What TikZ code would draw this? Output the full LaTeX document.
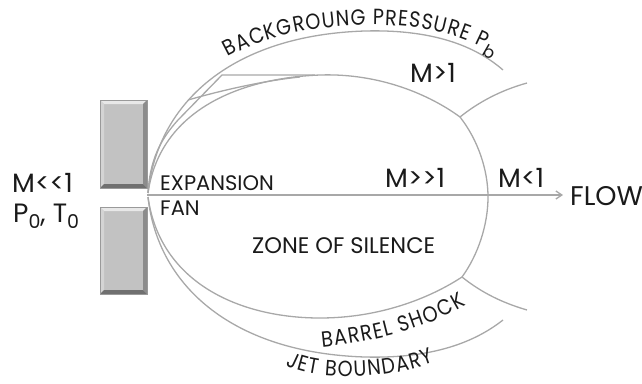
\documentclass[tikz,border=0pt]{standalone}
\usepackage{fontspec}
\setmainfont{Poppins}
\newfontfamily\arcfont{Poppins}[FakeStretch=0.87]
\usetikzlibrary{decorations.text,arrows.meta}
\definecolor{jetline}{HTML}{A8A8A8}
\definecolor{ink}{HTML}{1A1A1A}
\definecolor{blkface}{HTML}{C2C2C2}
\definecolor{blklight}{HTML}{E8E8E8}
\definecolor{blkside}{HTML}{D4D4D4}
\definecolor{blkdark}{HTML}{8C8C8C}
\definecolor{blkedge}{HTML}{9A9A9A}
\newcommand\lowsub[1]{\raisebox{-6pt}{\fontsize{19}{19}\selectfont #1}}
\begin{document}
\begin{tikzpicture}[x=1pt,y=-1pt,
  jet/.style={draw=jetline,line width=1.3pt},
  lbl/.style={inner sep=0pt,anchor=base west,text=ink},
  big/.style={font=\fontsize{26.5}{26.5}\selectfont},
  mid/.style={font=\fontsize{22.5}{22.5}\selectfont},
  small/.style={font=\fontsize{21}{21}\selectfont},
  nozzlewall/.style={rectangle,inner sep=0pt,minimum width=47pt,fill=blkface,
    draw=blkedge,line width=0.5pt,
    path picture={
      \fill[blklight] (path picture bounding box.north west) -- (path picture bounding box.north east)
        -- ([xshift=-4pt,yshift=-4pt]path picture bounding box.north east)
        -- ([xshift=4pt,yshift=-4pt]path picture bounding box.north west) -- cycle;
      \fill[blkside] (path picture bounding box.north west) -- ([xshift=4pt,yshift=-4pt]path picture bounding box.north west)
        -- ([xshift=4pt,yshift=4pt]path picture bounding box.south west) -- (path picture bounding box.south west) -- cycle;
      \fill[blkdark] (path picture bounding box.north east) -- ([xshift=-4pt,yshift=-4pt]path picture bounding box.north east)
        -- ([xshift=-4pt,yshift=4pt]path picture bounding box.south east) -- (path picture bounding box.south east) -- cycle;
      \fill[blkdark!80!black] (path picture bounding box.south west) -- ([xshift=4pt,yshift=4pt]path picture bounding box.south west)
        -- ([xshift=-4pt,yshift=4pt]path picture bounding box.south east) -- (path picture bounding box.south east) -- cycle;
    }},
  curvedlabel/.style={decorate,decoration={text along path,text align={fit to path},
    text color=ink,text={|\arcfont\fontsize{22}{22}\selectfont|#1}}}]
\useasboundingbox (0,0) rectangle (642,383);

% nozzle walls
\node[nozzlewall,minimum height=88pt] (wallU) at (123.5,144) {};
\node[nozzlewall,minimum height=87pt] (wallL) at (123.5,250.5) {};

% key points of the jet structure
\coordinate (lipU) at (148,193);
\coordinate (lipL) at (148,197);
\coordinate (triU) at (460,117);
\coordinate (triL) at (462,277);
\coordinate (axisS) at (147,195);
\coordinate (axisE) at (563,195);

% jet boundary
\draw[jet] (lipU) .. controls (158,100) and (235,35) .. (365,31) .. controls (440,29) and (480,50) .. (503,70);
\draw[jet] (lipL) .. controls (158,288) and (235,353) .. (365,357) .. controls (440,359) and (480,338) .. (503,320);

% barrel shock
\draw[jet] (lipU) .. controls (160,110) and (240,78) .. (320,75) .. controls (380,73) and (430,95) .. (triU);
\draw[jet] (lipL) .. controls (160,283) and (240,318) .. (320,318) .. controls (380,318) and (430,298) .. (triL);

% expansion fan and reflected waves
\draw[jet] (lipU) .. controls (150,160) and (160,140) .. (178,120) -- (222,75) -- (315,75);
\coordinate (reflS) at (188,100);
\draw[jet] (reflS) .. controls (230,88) and (270,80) .. (300,77);

% Mach disk and reflected shocks
\draw[jet] (triU) .. controls (478,140) and (488,170) .. (488,197) .. controls (488,225) and (478,255) .. (triL);
\draw[jet] (triU) .. controls (480,101) and (502,90) .. (527,83);
\draw[jet] (triL) .. controls (482,293) and (503,303) .. (527,310);

% centre line
\draw[jet,-{Straight Barb[length=6pt,width=8pt]}] (axisS) -- (axisE);

% labels
\node[lbl,big] (mlow) at (12,192) {M\mbox{<}\mbox{<}1};
\node[lbl,big] (stag) at (13,222) {P\lowsub{0}, T\lowsub{0}};
\node[lbl,small] (expn) at (160,190) {EXPANSION};
\node[lbl,small] (fan) at (160,215) {FAN};
\node[lbl,mid] (zone) at (252,253) {ZONE OF SILENCE};
\node[lbl,big] (mhigh) at (385,187) {M\mbox{>}\mbox{>}1};
\node[lbl,big] (msub) at (498,187) {M<1};
\node[lbl,big] (msup) at (410,82) {M>1};
\node[lbl,font=\fontsize{27}{27}\selectfont] (flow) at (570,205) {FLOW};

% curved labels
\path[curvedlabel={BACKGROUNG PRESSURE P}] (228,57) .. controls (262,38) and (310,26) .. (365,25) .. controls (425,24) and (458,35) .. (484,48);
\node[inner sep=0pt,text=ink,rotate=-30,font=\fontsize{17}{17}\selectfont] (pbsub) at (490,52) {b};
\path[curvedlabel={BARREL SHOCK}] (322,347) .. controls (370,342) and (420,332) .. (466,305);
\path[curvedlabel={JET BOUNDARY}] (286,365) .. controls (310,380) and (380,382) .. (434,362);
\end{tikzpicture}
\end{document}
